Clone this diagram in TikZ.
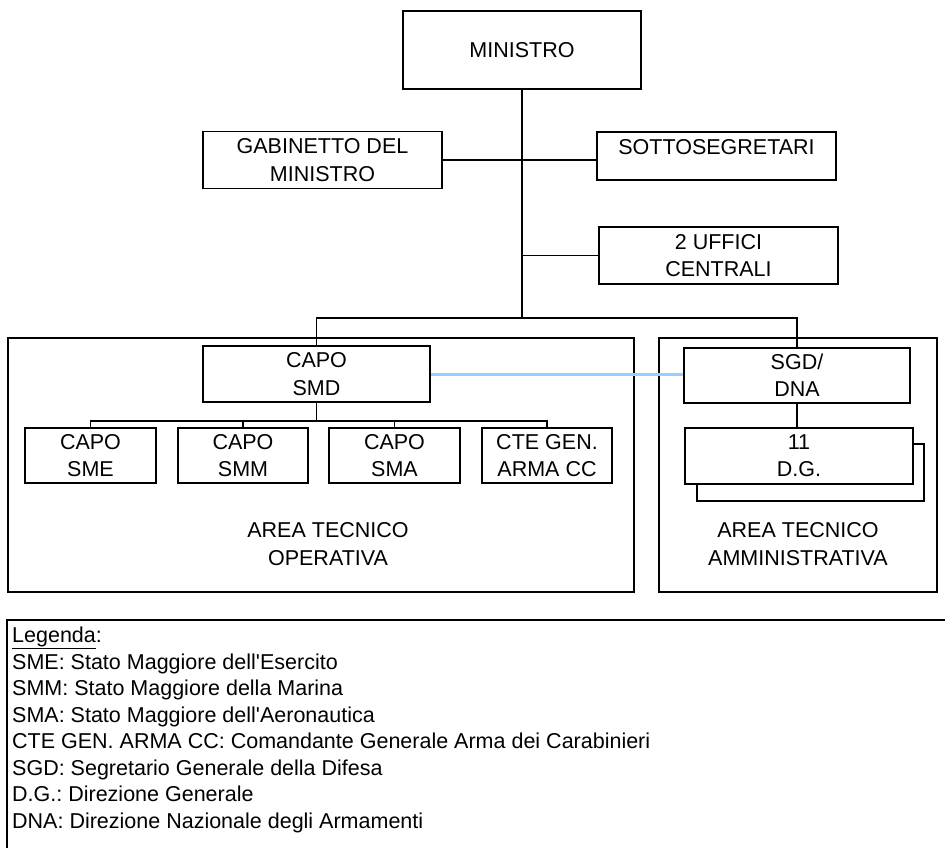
\documentclass[tikz,border=0pt]{standalone}
\usepackage{fontspec}
\setmainfont{Liberation Sans}
\definecolor{linkblue}{RGB}{153,204,255}
\frenchspacing
\begin{document}
\begin{tikzpicture}[x=1pt,y=-1pt,
  txt/.style={font=\fontsize{21.5}{27.3}\selectfont},
  box/.style={txt,draw=black,line width=1.5pt,fill=white,inner sep=0pt,align=center,minimum height=#1},
  box/.default=56pt,
  conn/.style={line width=1.4pt},
  legline/.style={txt,anchor=base west,inner sep=0pt}]
\useasboundingbox (0,0) rectangle (945,847);
\clip (0,0) rectangle (945,847);
% area frames
\draw[line width=1.5pt] (8,338) rectangle (634,592);
\draw[line width=1.5pt] (659,338) rectangle (937,592);
% legend frame (runs off the page)
\draw[line width=1.5pt] (7,860) -- (7,620) -- (960,620);
% nodes
\node[box=78pt,minimum width=238pt] (min) at (522,50) {MINISTRO};
\node[box=57pt,minimum width=239pt] (gab) at (322.5,160) {GABINETTO DEL\\MINISTRO};
\node[box=48pt,minimum width=239pt,text height=22pt,text depth=26pt] (sotto) at (716.5,156) {SOTTOSEGRETARI};
\node[box=57pt,minimum width=239pt] (uff) at (718.5,255.5) {2 UFFICI\\CENTRALI};
\coordinate (bus) at (522,318);
\node[box=56pt,minimum width=227pt] (smd) at (316.5,374) {CAPO\\SMD};
\node[box=55pt,minimum width=226pt] (sgd) at (797,375.5) {SGD/\\DNA};
\draw[line width=1.5pt] (697,444) rectangle (924,501);
\node[box=56pt,minimum width=228pt] (dg) at (799,456) {11\\D.G.};
\node[box=55pt,minimum width=131pt] (sme) at (90.5,455.5) {CAPO\\SME};
\node[box=55pt,minimum width=130pt] (smm) at (243,455.5) {CAPO\\SMM};
\node[box=55pt,minimum width=131pt] (sma) at (394.5,455.5) {CAPO\\SMA};
\node[box=55pt,minimum width=130pt] (cte) at (547,455.5) {CTE GEN.\\ARMA CC};
\node[txt,align=center,inner sep=0pt] (ato) at (328,544) {AREA TECNICO\\OPERATIVA};
\node[txt,align=center,inner sep=0pt] (ata) at (798,544) {AREA TECNICO\\AMMINISTRATIVA};
% connectors
\draw[conn] (min.south) -- (bus);
\draw[conn] (gab.east) -- (gab.east -| sotto.west);
\draw[conn] (uff.west -| min.south) -- (uff.west);
\draw[conn] (smd.north) -- (smd.north |- bus) -- (sgd.north |- bus) -- (sgd.north);
\draw[conn] (sgd.south) -- (sgd.south |- dg.north);
\coordinate (cbus) at (316.5,421);
\draw[conn] (smd.south) -- (cbus);
\draw[conn] (sme.north) -- (sme.north |- cbus) -- (cte.north |- cbus) -- (cte.north);
\draw[conn] (smm.north) -- (smm.north |- cbus);
\draw[conn] (sma.north) -- (sma.north |- cbus);
\draw[line width=3pt,linkblue] (smd.east) -- (smd.east -| sgd.west);
% legend
\node[legline] (l0) at (12,642.5) {\underline{Legenda}:};
\node[legline] (l1) at (12,669) {SME: Stato Maggiore dell\textquotesingle Esercito};
\node[legline] (l2) at (12,695.5) {SMM: Stato Maggiore della Marina};
\node[legline] (l3) at (12,722) {SMA: Stato Maggiore dell\textquotesingle Aeronautica};
\node[legline] (l4) at (12,748.5) {CTE GEN. ARMA CC: Comandante Generale Arma dei Carabinieri};
\node[legline] (l5) at (12,775) {SGD: Segretario Generale della Difesa};
\node[legline] (l6) at (12,801.5) {D.G.: Direzione Generale};
\node[legline] (l7) at (12,828) {DNA: Direzione Nazionale degli Armamenti};
\end{tikzpicture}
\end{document}
